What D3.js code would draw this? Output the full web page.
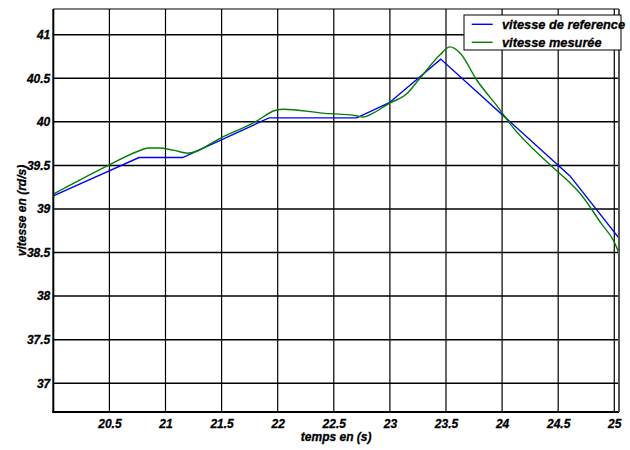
<!DOCTYPE html>
<html>
<head>
<meta charset="utf-8">
<script src="https://cdn.jsdelivr.net/npm/d3@7"></script>
<style>
  html, body { margin: 0; padding: 0; background: #fff; }
  svg text { font-family: "Liberation Sans", Arial, sans-serif; font-weight: bold; font-style: italic; stroke: #000; stroke-width: 0.3; }
</style>
</head>
<body>
<svg id="chart" width="630" height="450"></svg>
<script>
// ---- data ----
const refTime  = [20, 20.764, 21.153, 21.923, 22.704, 22.995, 23.453, 24.605, 25.04];
const refSpeed = [39.15, 39.59, 39.59, 40.045, 40.045, 40.22, 40.72, 39.38, 38.67];

const mesTime  = [20.0, 20.49, 20.75, 20.85, 20.94, 21.07, 21.2, 21.5, 21.8, 21.976, 22.05, 22.4, 22.70, 22.763, 22.85, 22.995, 23.14, 23.268, 23.447, 23.536, 23.625, 23.774, 23.98, 24.07, 24.442, 24.605, 24.694, 24.88, 25.0, 25.04];
const mesSpeed = [39.17, 39.50, 39.66, 39.70, 39.70, 39.675, 39.64, 39.82, 40.00, 40.13, 40.145, 40.10, 40.07, 40.055, 40.10, 40.213, 40.31, 40.50, 40.77, 40.86, 40.79, 40.48, 40.14, 39.98, 39.49, 39.30, 39.18, 38.84, 38.62, 38.50];

const xTicks = [20.5, 21, 21.5, 22, 22.5, 23, 23.5, 24, 24.5, 25];
const yTicks = [37, 37.5, 38, 38.5, 39, 39.5, 40, 40.5, 41];
const seriesNames = ["vitesse de reference", "vitesse mesurée"];
const seriesColors = ["#0000ff", "#008000"];
const xLabel = "temps en (s)";
const yLabel = "vitesse en (rd/s)";

// ---- layout ----
const L = 53.3, R = 619, T = 9, B = 412;
const svg = d3.select("#chart");
const x = d3.scaleLinear().domain([20, 25.042]).range([L, R]);
const y = d3.scaleLinear().domain([36.67, 41.295]).range([B, T]);

// grid
const g = svg.append("g");
g.selectAll("line.vg").data(xTicks).join("line")
  .attr("x1", d => x(d)).attr("x2", d => x(d))
  .attr("y1", T).attr("y2", B)
  .attr("stroke", "#000").attr("stroke-width", 1.2);
g.selectAll("line.hg").data(yTicks).join("line")
  .attr("x1", L).attr("x2", R)
  .attr("y1", d => y(d)).attr("y2", d => y(d))
  .attr("stroke", "#000").attr("stroke-width", 1.5);

// axes with D3 axis generators (labels only)
const xAxis = d3.axisBottom(x).tickValues(xTicks).tickSize(0).tickPadding(7)
  .tickFormat(d => d3.format("")(d));
const yAxis = d3.axisLeft(y).tickValues(yTicks).tickSize(0).tickPadding(3)
  .tickFormat(d => d3.format("")(d));
const gx = svg.append("g").attr("transform", `translate(0,${B})`).call(xAxis);
const gy = svg.append("g").attr("transform", `translate(${L},0)`).call(yAxis);
[gx, gy].forEach(a => {
  a.select(".domain").remove();
  a.selectAll("text").attr("font-size", 12).attr("fill", "#000")
    .attr("font-family", "Liberation Sans, Arial, sans-serif")
    .attr("font-weight", "bold").attr("font-style", "italic");
});

// lines
const clip = svg.append("clipPath").attr("id", "clip").append("rect")
  .attr("x", L).attr("y", T).attr("width", R - L).attr("height", B - T);
const refData = refTime.map((t, i) => [t, refSpeed[i]]);
const mesData = mesTime.map((t, i) => [t, mesSpeed[i]]);
svg.append("path").datum(refData)
  .attr("d", d3.line().x(d => x(d[0])).y(d => y(d[1])).curve(d3.curveLinear))
  .attr("fill", "none").attr("stroke", seriesColors[0]).attr("stroke-width", 1.4)
  .attr("clip-path", "url(#clip)");
svg.append("path").datum(mesData)
  .attr("d", d3.line().x(d => x(d[0])).y(d => y(d[1])).curve(d3.curveMonotoneX))
  .attr("fill", "none").attr("stroke", seriesColors[1]).attr("stroke-width", 1.4)
  .attr("clip-path", "url(#clip)");

// frame
svg.append("line").attr("x1", L).attr("x2", L).attr("y1", T).attr("y2", B + 1)
  .attr("stroke", "#000").attr("stroke-width", 2);
svg.append("line").attr("x1", L - 1).attr("x2", R).attr("y1", B).attr("y2", B)
  .attr("stroke", "#000").attr("stroke-width", 2);
svg.append("line").attr("x1", L).attr("x2", R).attr("y1", T).attr("y2", T)
  .attr("stroke", "#000").attr("stroke-width", 1.2);
svg.append("line").attr("x1", R).attr("x2", R).attr("y1", T).attr("y2", B)
  .attr("stroke", "#555").attr("stroke-width", 2);

// axis titles
svg.append("text").attr("x", (L + R) / 2).attr("y", 441)
  .attr("text-anchor", "middle").attr("font-size", 12).text(xLabel);
svg.append("text").attr("transform", `translate(26,${(T + B) / 2}) rotate(-90)`)
  .attr("text-anchor", "middle").attr("font-size", 12).text(yLabel);

// legend
const lg = svg.append("g");
lg.append("rect").attr("x", 464).attr("y", 15).attr("width", 157).attr("height", 35)
  .attr("fill", "#fff").attr("stroke", "#000").attr("stroke-width", 1);
seriesNames.forEach((name, i) => {
  const cy = 24.3 + i * 18;
  lg.append("line").attr("x1", 471.7).attr("x2", 492.7).attr("y1", cy).attr("y2", cy)
    .attr("stroke", seriesColors[i]).attr("stroke-width", 1.4);
  lg.append("text").attr("x", 502).attr("y", cy + 4.5).attr("font-size", 12.8).text(name);
});
</script>
</body>
</html>
